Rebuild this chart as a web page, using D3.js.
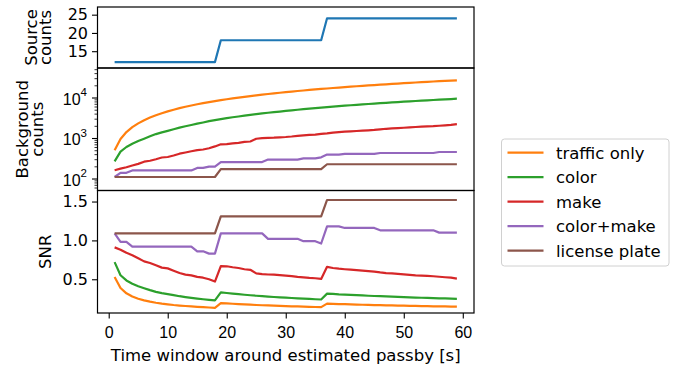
<!DOCTYPE html>
<html>
<head>
<meta charset="utf-8">
<script src="https://cdn.jsdelivr.net/npm/d3@7"></script>
<style>
  html, body { margin: 0; padding: 0; background: #fff; }
  svg { display: block; font-family: "DejaVu Sans", sans-serif; }
</style>
</head>
<body>
<svg id="chart" width="685" height="372"></svg>
<script>
// ---------------- data ----------------
const time = [1,2,3,4,5,6,7,8,9,10,11,12,13,14,15,16,17,18,19,20,21,22,23,24,25,26,27,28,29,30,
  31,32,33,34,35,36,37,38,39,40,41,42,43,44,45,46,47,48,49,50,51,52,53,54,55,56,57,58,59];

const sourceCounts = [12,12,12,12,12,12,12,12,12,12,12,12,12,12,12,12,12,12,
  18,18,18,18,18,18,18,18,18,18,18,18,18,18,18,18,18,18,
  24,24,24,24,24,24,24,24,24,24,24,24,24,24,24,24,24,24,24,24,24,24,24];

const seriesNames = ["traffic only", "color", "make", "color+make", "license plate"];

const bgTraffic = [500,950,1400,1850,2300,2750,3200,3650,4100,4550,5000,5450,5900,6350,6800,7250,7700,8150,
  8600,9050,9500,9950,10400,10850,11300,11750,12200,12650,13100,13550,14000,14450,14900,15350,15800,16250,
  16700,17150,17600,18050,18500,18950,19400,19850,20300,20750,21200,21650,22100,22550,23000,23450,23900,24350,24800,25250,25700,26150,26600];
const bgColor = [265,460,600,720,840,960,1100,1250,1380,1500,1640,1800,1950,2100,2260,2420,2600,2760,
  2930,3090,3250,3400,3560,3720,3880,4040,4200,4350,4500,4660,4820,4980,5140,5300,5460,5620,
  5800,5960,6120,6280,6440,6600,6760,6920,7080,7240,7400,7560,7720,7880,8040,8200,8360,8520,8680,8840,9000,9170,9340];
const bgMake = [160,175,190,210,230,260,275,300,330,340,370,410,440,470,500,520,560,620,
  700,710,740,760,800,820,960,990,1010,1020,1040,1060,1090,1130,1160,1190,1210,1260,
  1300,1360,1400,1430,1460,1490,1520,1550,1580,1640,1690,1720,1750,1790,1830,1870,1900,1930,1960,2010,2060,2110,2200];
const bgColorMake = [109,138,138,158,158,158,158,158,158,158,158,158,158,158,183,183,197,197,
  255,255,255,255,255,255,255,255,293,293,293,293,293,293,313,313,313,334,
  390,390,390,404,404,404,404,404,404,427,427,427,427,427,427,427,427,427,427,452,452,452,452];
const bgPlate = [109,109,109,109,109,109,109,109,109,109,109,109,109,109,109,109,109,109,
  171,171,171,171,171,171,171,171,171,171,171,171,171,171,171,171,171,171,
  225,225,225,225,225,225,225,225,225,225,225,225,225,225,225,225,225,225,225,225,225,225,225];

const snrTraffic = [0.53,0.387,0.319,0.278,0.249,0.228,0.212,0.198,0.187,0.178,0.169,0.162,0.156,0.150,0.145,0.141,0.137,0.133,
  0.194,0.189,0.185,0.180,0.176,0.173,0.169,0.166,0.163,0.160,0.157,0.155,0.152,0.150,0.147,0.145,0.143,0.141,
  0.186,0.183,0.181,0.179,0.176,0.174,0.172,0.170,0.168,0.167,0.165,0.163,0.161,0.160,0.158,0.157,0.155,0.154,0.152,0.151,0.150,0.148,0.147];
const snrColor = [0.72,0.552,0.485,0.443,0.411,0.385,0.36,0.338,0.322,0.309,0.295,0.282,0.271,0.261,0.252,0.243,0.235,0.228,
  0.331,0.323,0.315,0.308,0.301,0.294,0.288,0.283,0.277,0.272,0.268,0.263,0.259,0.255,0.251,0.247,0.243,0.240,
  0.315,0.311,0.306,0.303,0.299,0.295,0.292,0.288,0.285,0.282,0.279,0.276,0.273,0.270,0.267,0.265,0.262,0.260,0.257,0.255,0.253,0.250,0.248];
const snrMake = [0.91,0.88,0.84,0.81,0.77,0.73,0.71,0.68,0.65,0.64,0.61,0.58,0.56,0.55,0.53,0.52,0.50,0.47,
  0.67,0.667,0.655,0.645,0.629,0.622,0.575,0.567,0.561,0.559,0.553,0.548,0.541,0.531,0.524,0.517,0.513,0.504,
  0.66,0.645,0.636,0.629,0.623,0.617,0.611,0.605,0.599,0.588,0.58,0.575,0.57,0.564,0.557,0.551,0.547,0.543,0.539,0.532,0.526,0.52,0.509];
const snrColorMake = [1.09,0.98,0.98,0.92,0.92,0.92,0.92,0.92,0.92,0.92,0.92,0.92,0.92,0.92,0.86,0.86,0.83,0.83,
  1.09,1.09,1.09,1.09,1.09,1.09,1.09,1.09,1.02,1.02,1.02,1.02,1.02,1.02,0.99,0.99,0.99,0.96,
  1.18,1.18,1.18,1.16,1.16,1.16,1.16,1.16,1.16,1.13,1.13,1.13,1.13,1.13,1.13,1.13,1.13,1.13,1.13,1.10,1.10,1.10,1.10];
const snrPlate = [1.09,1.09,1.09,1.09,1.09,1.09,1.09,1.09,1.09,1.09,1.09,1.09,1.09,1.09,1.09,1.09,1.09,1.09,
  1.31,1.31,1.31,1.31,1.31,1.31,1.31,1.31,1.31,1.31,1.31,1.31,1.31,1.31,1.31,1.31,1.31,1.31,
  1.52,1.52,1.52,1.52,1.52,1.52,1.52,1.52,1.52,1.52,1.52,1.52,1.52,1.52,1.52,1.52,1.52,1.52,1.52,1.52,1.52,1.52,1.52];

const xTicks = [0,10,20,30,40,50,60];
const topTicks = [15,20,25];
const midTicks = [100,1000,10000];
const botTicks = [0.5,1.0,1.5];

const colors = ["#ff7f0e","#2ca02c","#d62728","#9467bd","#8c564b"];
const sourceColor = "#1f77b4";

// ---------------- layout ----------------
const svg = d3.select("#chart");
const L = 97.5, R = 474;
const P = { top: [7, 68], mid: [68, 190.5], bot: [190.5, 313] };
const TICK = 5.5, PAD = 4, TFS = 16, LFS = 16.5;

const x = d3.scaleLinear().domain([-1.9, 61.9]).range([L, R]);
const yTop = d3.scaleLinear().domain([10.4, 27.1]).range([P.top[1], P.top[0]]);
const yMid = d3.scaleLog().domain([50.6, 53500]).range([P.mid[1], P.mid[0]]);
const yBot = d3.scaleLinear().domain([0.066, 1.642]).range([P.bot[1], P.bot[0]]);

function clip(id, y0, y1) {
  svg.append("clipPath").attr("id", id).append("rect")
    .attr("x", L).attr("y", y0).attr("width", R - L).attr("height", y1 - y0);
}
clip("cTop", P.top[0], P.top[1]);
clip("cMid", P.mid[0], P.mid[1]);
clip("cBot", P.bot[0], P.bot[1]);

function drawLine(vals, yScale, color, clipId) {
  const line = d3.line().x((d, i) => x(time[i])).y(d => yScale(d));
  svg.append("path").datum(vals)
    .attr("d", line)
    .attr("fill", "none")
    .attr("stroke", color)
    .attr("stroke-width", 2.2)
    .attr("stroke-linejoin", "round")
    .attr("stroke-linecap", "butt")
    .attr("clip-path", `url(#${clipId})`);
}

drawLine(sourceCounts, yTop, sourceColor, "cTop");
[bgTraffic, bgColor, bgMake, bgColorMake, bgPlate].forEach((s, i) => drawLine(s, yMid, colors[i], "cMid"));
[snrTraffic, snrColor, snrMake, snrColorMake, snrPlate].forEach((s, i) => drawLine(s, yBot, colors[i], "cBot"));

function yAxis(scale, ticks, fmt) {
  const g = svg.append("g").attr("transform", `translate(${L},0)`)
    .call(d3.axisLeft(scale).tickValues(ticks).tickSize(TICK).tickPadding(PAD).tickFormat(fmt));
  g.select(".domain").remove();
  g.selectAll(".tick line").attr("stroke", "#000").attr("stroke-width", 1.1);
  g.selectAll(".tick text").attr("font-size", TFS).attr("fill", "#000")
    .attr("font-family", "DejaVu Sans");
  return g;
}
yAxis(yTop, topTicks, d3.format("d"));
yAxis(yBot, botTicks, d3.format(".1f"));

const minor = [];
[10, 100, 1000, 10000].forEach(dec => { for (let k = 2; k <= 9; k++) minor.push(dec * k); });
const minorIn = minor.filter(v => v >= yMid.domain()[0] && v <= yMid.domain()[1]);
const gm = svg.append("g").attr("transform", `translate(${L},0)`)
  .call(d3.axisLeft(yMid).tickValues(minorIn).tickSize(3).tickFormat(""));
gm.select(".domain").remove();
gm.selectAll(".tick line").attr("stroke", "#000").attr("stroke-width", 0.8);

const gM = svg.append("g").attr("transform", `translate(${L},0)`)
  .call(d3.axisLeft(yMid).tickValues(midTicks).tickSize(TICK).tickPadding(PAD).tickFormat(""));
gM.select(".domain").remove();
gM.selectAll(".tick line").attr("stroke", "#000").attr("stroke-width", 1.1);
gM.selectAll(".tick").each(function(d) {
  const t = d3.select(this).append("text")
    .attr("x", -(TICK + PAD + 1)).attr("dy", "0.42em")
    .attr("text-anchor", "end").attr("font-size", TFS).attr("fill", "#000");
  t.append("tspan").text("10");
  t.append("tspan").attr("font-size", 11.5).attr("dy", "-0.75em").text(String(Math.round(Math.log10(d))));
});

const gx = svg.append("g").attr("transform", `translate(0,${P.bot[1]})`)
  .call(d3.axisBottom(x).tickValues(xTicks).tickSize(TICK).tickPadding(PAD + 4).tickFormat(d3.format("d")));
gx.select(".domain").remove();
gx.selectAll(".tick line").attr("stroke", "#000").attr("stroke-width", 1.1);
gx.selectAll(".tick text").attr("font-size", TFS).attr("fill", "#000");

Object.values(P).forEach(([y0, y1]) => {
  svg.append("rect").attr("x", L).attr("y", y0).attr("width", R - L).attr("height", y1 - y0)
    .attr("fill", "none").attr("stroke", "#000").attr("stroke-width", 1.2);
});

function vLabel(lines, xs, yc) {
  lines.forEach((s, i) => {
    svg.append("text").attr("transform", `translate(${xs[i]},${yc}) rotate(-90)`)
      .attr("text-anchor", "middle").attr("font-size", LFS).attr("fill", "#000").text(s);
  });
}
vLabel(["Source", "counts"], [37, 51], (P.top[0] + P.top[1]) / 2);
vLabel(["Background", "counts"], [28, 43], (P.mid[0] + P.mid[1]) / 2);
vLabel(["SNR"], [51], (P.bot[0] + P.bot[1]) / 2);

svg.append("text").attr("x", (L + R) / 2).attr("y", 361).attr("text-anchor", "middle")
  .attr("font-size", LFS).attr("fill", "#000").text("Time window around estimated passby [s]");

const lg = svg.append("g");
lg.append("rect").attr("x", 501.5).attr("y", 139).attr("width", 167.5).attr("height", 127)
  .attr("rx", 3).attr("fill", "#fff").attr("stroke", "#d0d0d0").attr("stroke-width", 1);
seriesNames.forEach((name, i) => {
  const yy = 152.7 + i * 24.5;
  lg.append("line").attr("x1", 507.5).attr("x2", 543.5).attr("y1", yy).attr("y2", yy)
    .attr("stroke", colors[i]).attr("stroke-width", 2.2);
  lg.append("text").attr("x", 556).attr("y", yy).attr("dy", "0.36em")
    .attr("font-size", LFS).attr("fill", "#000").text(name);
});
</script>
</body>
</html>
